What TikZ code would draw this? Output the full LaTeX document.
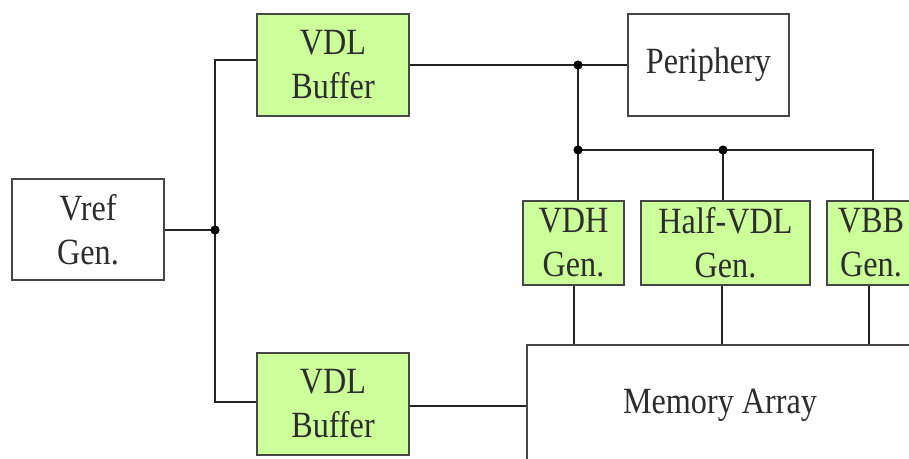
\documentclass[tikz,border=0pt]{standalone}
\usepackage{fontspec}
\setmainfont{Liberation Serif}[FakeStretch=0.87]
\definecolor{boxgreen}{RGB}{204,255,153}
\definecolor{linec}{RGB}{35,35,35}
\definecolor{borderc}{RGB}{70,70,70}
\definecolor{textc}{RGB}{45,45,45}
\begin{document}
\begin{tikzpicture}[x=1pt,y=-1pt,
  blk/.style={draw=borderc, line width=2.6pt, rectangle, inner sep=0pt, align=center,
     text=textc, font=\fontsize{37}{44}\selectfont},
  gbox/.style={blk, fill=boxgreen},
  wbox/.style={blk, fill=white},
  wire/.style={draw=linec, line width=2.4pt},
  dot/.style={fill=black}]
\useasboundingbox (0,0) rectangle (909,458);
\clip (0,0) rectangle (909,458);
\fill[white] (0,0) rectangle (909,458);

\node[wbox, minimum width=152pt, minimum height=101pt] (vref) at (88,229.5) {Vref\\Gen.};
\node[gbox, minimum width=152pt, minimum height=102pt] (buf1) at (333,65) {VDL\\Buffer};
\node[gbox, minimum width=152pt, minimum height=102pt] (buf2) at (333,404) {VDL\\Buffer};
\node[wbox, minimum width=161pt, minimum height=102pt] (per) at (708.5,65) {Periphery\strut};
\node[gbox, minimum width=101pt, minimum height=84pt] (vdh) at (573.5,243) {VDH\\Gen.};
\node[gbox, minimum width=169pt, minimum height=84pt] (half) at (725.5,243) {Half-VDL\\Gen.};
\node[gbox, minimum width=88pt, minimum height=84pt] (vbb) at (871,243) {VBB\\Gen.};
\node[wbox, minimum width=386pt, minimum height=120pt] (mem) at (720,405) {Memory Array\strut};

\coordinate (j1) at (215,230);
\coordinate (j2) at (578,65);
\coordinate (j3) at (578,150);
\coordinate (j4) at (723,150);
\coordinate (c1) at (873,150);

\draw[wire] (vref.east |- j1) -- (j1);
\draw[wire] ([yshift=5pt]buf1.west) -| (j1) |- ([yshift=2pt]buf2.west);
\draw[wire] (buf1.east) -- (j2) -- (per.west);
\draw[wire] (j2) -- (j3) -- (j3 |- vdh.north);
\draw[wire] (j3) -- (c1) -- (c1 |- vbb.north);
\draw[wire] (j4) -- (j4 |- half.north);
\draw[wire] ([yshift=-2pt]buf2.east) -- ([yshift=-2pt]buf2.east -| mem.west);
\draw[wire] (574,0 |- vdh.south) -- (574,0 |- mem.north);
\draw[wire] (722,0 |- half.south) -- (722,0 |- mem.north);
\draw[wire] (869,0 |- vbb.south) -- (869,0 |- mem.north);

\foreach \p in {j1,j2,j3,j4} \fill[dot] (\p) circle (4.6pt);
\end{tikzpicture}
\end{document}
